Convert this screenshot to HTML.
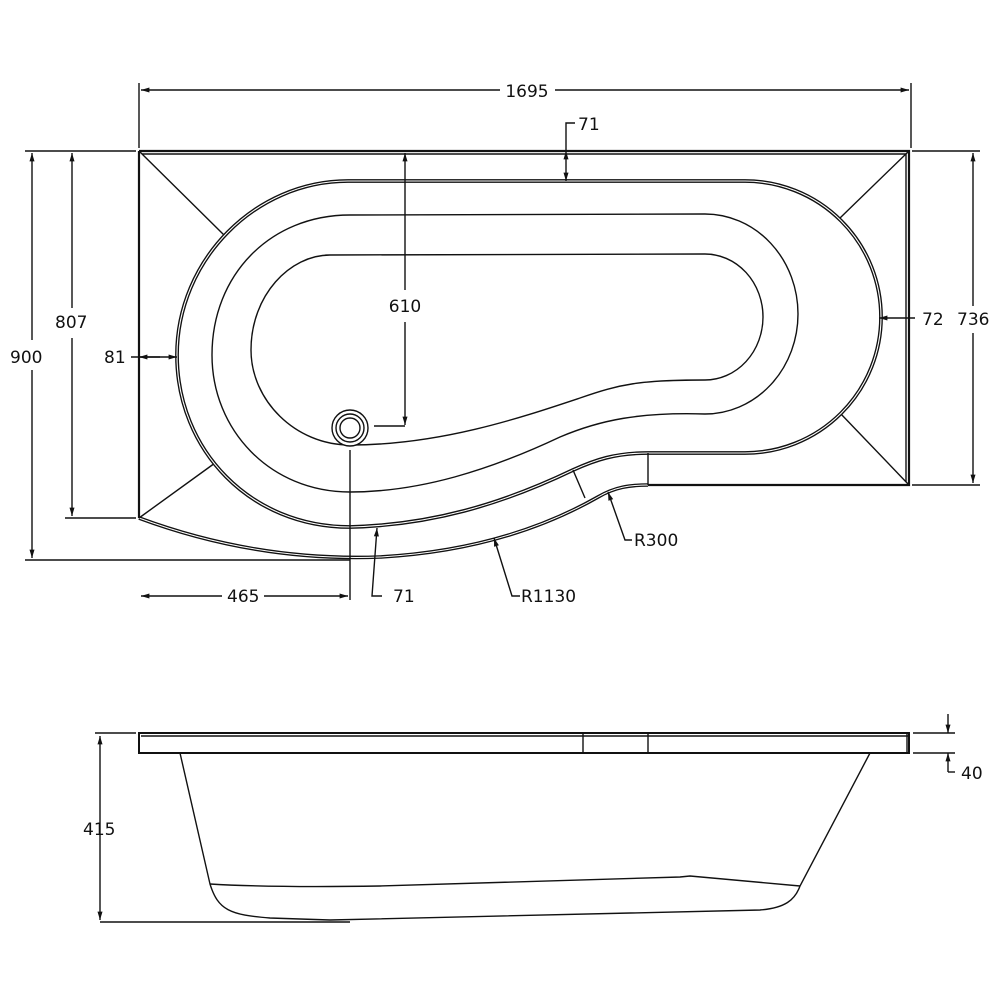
<!DOCTYPE html>
<html><head><meta charset="utf-8"><style>
html,body{margin:0;padding:0;background:#fff;}
svg{display:block}
text{font-family:"DejaVu Sans","Liberation Sans",sans-serif;font-size:17px;fill:#111}
</style></head><body>
<svg width="1000" height="1000" viewBox="0 0 1000 1000" xmlns="http://www.w3.org/2000/svg">
<defs>
<marker id="a" viewBox="0 0 10 10" refX="10" refY="5" markerWidth="8" markerHeight="6" orient="auto-start-reverse"><path d="M0,2 L10,5 L0,8 z" fill="#111"/></marker>
</defs>
<g fill="none" stroke="#111" stroke-width="1.4">
<!-- outer deck -->
<path d="M139,151 L909,151 L909,485 L648,485 M139,151 L139,518" stroke-width="2.2"/>
<path d="M142,154 L906,154 L906,482"/>
<path id="bc" d="M139,518 C220,548 300,560 380,557 C470,552 540,530 598,497 C615,487 630,485 648,485" stroke-width="3.6"/>
<path d="M139,518 C220,548 300,560 380,557 C470,552 540,530 598,497 C615,487 630,485 648,485" stroke="#fff" stroke-width="1"/>
<!-- diagonals -->
<path d="M139,151 L224,235 M909,151 L840,218 M909,485 L840,413 M139,518 L215,463"/>
<!-- rim (double) -->
<path d="M348,181 L745,181 A136,136 0 0 1 745,453 L648,453 C615,453 595,460 573,470 C500,505 430,525 350,527 C250,527 177,450 177,355 C177,260 255,181 348,181 Z" stroke-width="3.8"/>
<path d="M348,181 L745,181 A136,136 0 0 1 745,453 L648,453 C615,453 595,460 573,470 C500,505 430,525 350,527 C250,527 177,450 177,355 C177,260 255,181 348,181 Z" stroke="#fff" stroke-width="1.1"/>
<path d="M648,453 L648,485 M573,470 L585,498"/>
<!-- middle line -->
<path d="M350,215 L705,214 A93,100 0 0 1 705,414 C640,412 600,420 560,437 C490,470 420,492 350,492 C270,492 212,430 212,355 C212,275 270,215 350,215 Z"/>
<!-- inner line -->
<path d="M330,255 L705,254 A58,63 0 0 1 705,380 C640,380 620,384 580,398 C520,418 440,445 350,445 C295,445 251,400 251,350 C251,295 290,255 330,255 Z"/>
<!-- drain -->
<circle cx="350" cy="428" r="18" fill="#fff"/><circle cx="350" cy="428" r="14"/><circle cx="350" cy="428" r="10"/>
<!-- dimensions -->
<path d="M139,83 L139,148 M911,83 L911,148"/>
<path d="M141,90 L500,90 M555,90 L909,90" marker-start="url(#a)" marker-end="url(#a)"/>
<path d="M25,151 L136,151 M25,560 L350,560 M65,518 L136,518 M912,151 L980,151 M912,485 L980,485"/>
<path d="M32,153 L32,340 M32,370 L32,558" marker-start="url(#a)" marker-end="url(#a)"/>
<path d="M72,153 L72,308 M72,338 L72,516" marker-start="url(#a)" marker-end="url(#a)"/>
<path d="M973,153 L973,306 M973,333 L973,483" marker-start="url(#a)" marker-end="url(#a)"/>
<path d="M405,153 L405,290 M405,322 L405,425" marker-start="url(#a)" marker-end="url(#a)"/>
<path d="M374,426 L405,426"/>
<path d="M131,357 L177,357" marker-end="url(#a)"/>
<path d="M139,357 L160,357" marker-start="url(#a)"/>
<path d="M879,318 L915,318" marker-start="url(#a)"/>
<path d="M566,151 L566,181" marker-start="url(#a)" marker-end="url(#a)"/>
<path d="M566,151 L566,123 L575,123"/>
<path d="M350,450 L350,600"/>
<path d="M141,596 L222,596 M264,596 L348,596" marker-start="url(#a)" marker-end="url(#a)"/>
<path d="M382,596 L372,596 L377,528" marker-end="url(#a)"/>
<path d="M520,596 L512,596 L494,538" marker-end="url(#a)"/>
<path d="M632,540 L625,540 L608,492" marker-end="url(#a)"/>
<!-- side view -->
<rect x="139" y="733" width="770" height="20" stroke-width="2"/>
<path d="M141,736 L908,736 M583,733 L583,753 M648,733 L648,753 M907,734 L907,752"/>
<path d="M180,753 L210,884 C218,910 230,915 270,918 L330,920 L760,910 C785,908 795,900 800,886 L870,753"/>
<path d="M210,884 C260,887 320,887 380,886 L680,877 L690,876 L800,886"/>
<path d="M100,922 L350,922 M95,733 L136,733 M913,733 L955,733 M913,753 L955,753"/>
<path d="M100,736 L100,920" marker-start="url(#a)" marker-end="url(#a)"/>
<path d="M948,714 L948,733" marker-end="url(#a)"/>
<path d="M948,772 L948,753" marker-end="url(#a)"/>
<path d="M948,772 L955,772"/>
</g>
<text x="527" y="97" text-anchor="middle">1695</text>
<text x="578" y="130">71</text>
<text x="405" y="312" text-anchor="middle">610</text>
<text x="10" y="363">900</text>
<text x="55" y="328">807</text>
<text x="104" y="363">81</text>
<text x="922" y="325">72</text>
<text x="957" y="325">736</text>
<text x="227" y="602">465</text>
<text x="393" y="602">71</text>
<text x="521" y="602">R1130</text>
<text x="634" y="546">R300</text>
<text x="83" y="835">415</text>
<text x="961" y="779">40</text>
</svg>
</body></html>
